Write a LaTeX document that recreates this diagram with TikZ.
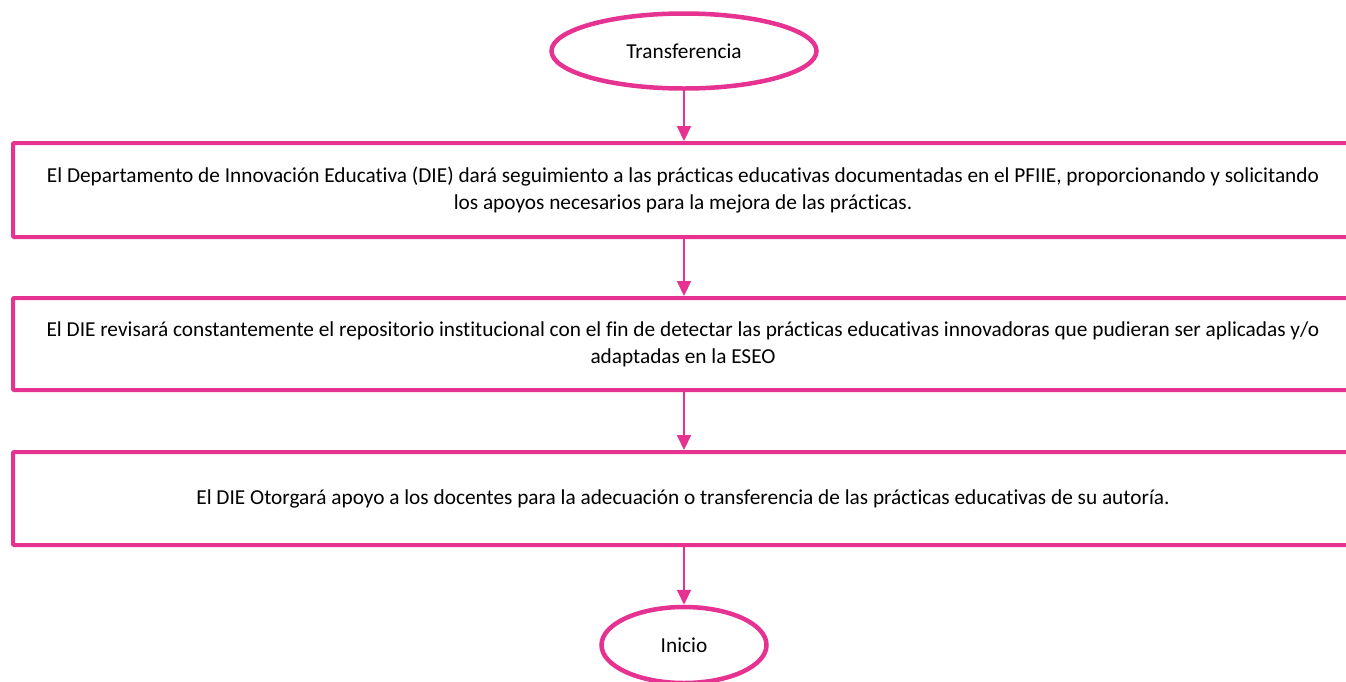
\documentclass[tikz,border=0pt]{standalone}
\usepackage{fontspec}
\setmainfont[Ligatures=NoCommon]{Carlito}
\usetikzlibrary{shapes.geometric,arrows.meta}
\definecolor{pinkline}{RGB}{230,50,145}
\begin{document}
\begin{tikzpicture}[x=1pt,y=-1pt,
  term/.style={ellipse,draw=pinkline,line width=4.5pt,fill=white,inner sep=0pt,
    font=\fontsize{21.3}{27}\selectfont},
  stepbox/.style={rectangle,draw=pinkline,line width=4pt,rounded corners=1pt,fill=white,
    align=center,inner sep=0pt,font=\fontsize{21.3}{27}\selectfont},
  arr/.style={draw=pinkline,line width=2pt,-{Triangle[width=14pt,length=15pt]}}]
\useasboundingbox (0,0) rectangle (1346,681);
\clip (0,0) rectangle (1346,681);
\node[term,minimum width=265pt,minimum height=75pt] (t) at (684,51) {Transferencia};
\node[stepbox,minimum width=1340pt,minimum height=94pt] (b1) at (683,190)
  {El Departamento de Innovación Educativa (DIE) dará seguimiento a las prácticas educativas documentadas en el PFIIE, proporcionando y solicitando\\los apoyos necesarios para la mejora de las prácticas.};
\node[stepbox,minimum width=1340pt,minimum height=92pt] (b2) at (683,344)
  {El DIE revisará constantemente el repositorio institucional con el fin de detectar las prácticas educativas innovadoras que pudieran ser aplicadas y/o\\adaptadas en la ESEO};
\node[stepbox,minimum width=1340pt,minimum height=93pt] (b3) at (683,498.5)
  {El DIE Otorgará apoyo a los docentes para la adecuación o transferencia de las prácticas educativas de su autoría.};
\node[term,minimum width=165pt,minimum height=76pt] (e) at (684,645) {Inicio};
\draw[arr] (t.south) -- (t.south |- b1.north);
\draw[arr] (t.south |- b1.south) -- (t.south |- b2.north);
\draw[arr] (t.south |- b2.south) -- (t.south |- b3.north);
\draw[arr] (t.south |- b3.south) -- (e.north);
\end{tikzpicture}
\end{document}
